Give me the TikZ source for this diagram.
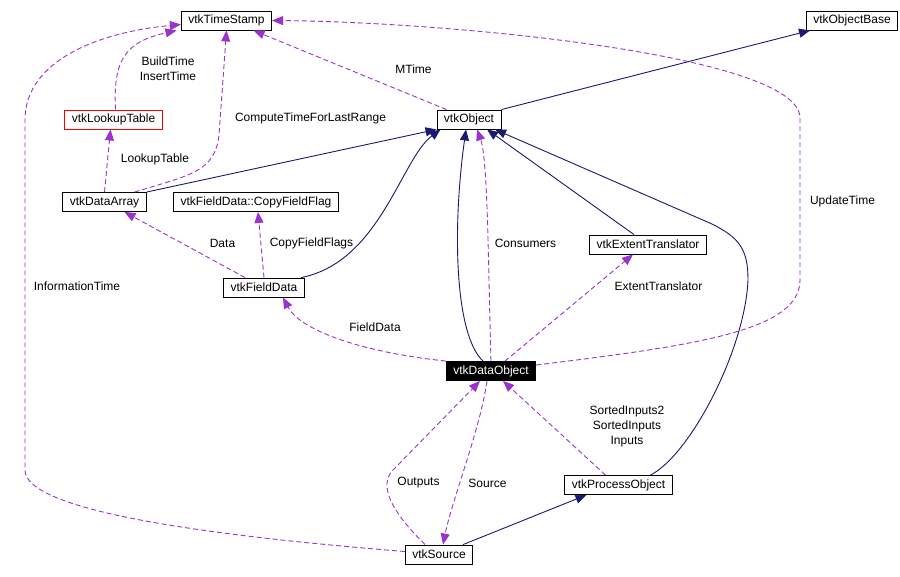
\documentclass[tikz,border=0pt]{standalone}
\usepackage{fontspec}
\setmainfont{Liberation Sans}
\usepackage{tikz}
\usetikzlibrary{arrows.meta,positioning}
\definecolor{VTKNavy}  {HTML}{191970}
\definecolor{VTKOrchid}{HTML}{9A32CD}
\definecolor{VTKRed}   {HTML}{FF0000}

\begin{document}
\begin{tikzpicture}[x=1pt,y=-1pt,
    cls/.style={draw=black,fill=white,line width=0.9pt,font=\fontsize{12}{14}\selectfont,
                inner xsep=7pt,inner ysep=0pt,minimum height=19pt},
    lbl/.style={font=\fontsize{12}{15}\selectfont,inner sep=0pt,align=center},
    inherit/.style={draw=VTKNavy,line width=0.9pt,-{Triangle[length=11pt,width=9pt]}},
    member/.style={draw=VTKOrchid,line width=0.9pt,dash pattern=on 5pt off 3pt,
                   -{Triangle[length=11pt,width=9pt]}}]
    \useasboundingbox (0,0) rectangle (900,576);
    % Classes
    \node[cls] (timestamp)   at (226.5,20.5) {vtkTimeStamp};
    \node[cls] (objectbase)  at (852,20.5)   {vtkObjectBase};
    \node[cls,draw=VTKRed] (lookuptable) at (113.5,119.5) {vtkLookupTable};
    \node[cls] (object)      at (469,119.5)  {vtkObject};
    \node[cls] (dataarray)   at (104.5,202)  {vtkDataArray};
    \node[cls] (copyflag)    at (256,202)    {vtkFieldData::CopyFieldFlag};
    \node[cls] (extent)      at (648,244.5)  {vtkExtentTranslator};
    \node[cls] (fielddata)   at (264,287.5)  {vtkFieldData};
    \node[cls,fill=black,text=white] (dataobject) at (491,371) {vtkDataObject};
    \node[cls] (procobject)  at (618.5,485)  {vtkProcessObject};
    \node[cls] (source)      at (439,554.5)  {vtkSource};
    % Inheritance
    \draw[inherit] (object.north east) -- ([xshift=-42pt]objectbase.south);
    \draw[inherit] (dataarray.north east) -- (object.south west);
    \draw[inherit] (fielddata.15) .. controls (380,262) and (401,159) .. ([xshift=4pt]object.south west);
    \draw[inherit] ([xshift=-8pt]dataobject.north) .. controls (455,335) and (452,230) .. ([xshift=-3pt]object.south);
    \draw[inherit] ([xshift=-14pt]extent.north) -- ([xshift=18pt]object.south);
    \draw[inherit] ([xshift=32pt]procobject.north) .. controls (690,455) and (745,350) .. (748,280)
        .. controls (748,250) and (740,238) .. (712,224) -- ([xshift=26pt]object.south);
    \draw[inherit] ([xshift=-10pt]source.north east) -- ([xshift=-32pt]procobject.south);
    % Members
    \draw[member] ([xshift=2pt]lookuptable.north) .. controls (113,60) and (125,42) .. ([xshift=-50pt]timestamp.south);
    \draw[member] ([xshift=30pt]dataarray.north) .. controls (190,175) and (215,172) .. (219,135) -- (timestamp.south);
    \draw[member] (dataarray.north) -- ([xshift=-3pt]lookuptable.south);
    \draw[member] ([xshift=10pt]object.north west) -- ([xshift=27pt]timestamp.south);
    \draw[member] ([yshift=6pt]dataobject.east) .. controls (700,345) and (800,330) .. (800,280) -- (800,118)
        .. controls (800,55) and (450,22) .. (timestamp.east);
    \draw[member] ([yshift=3pt]source.west) .. controls (200,535) and (25,510) .. (25,470) -- (25,120)
        .. controls (25,60) and (100,32) .. ([yshift=-4pt]timestamp.west);
    \draw[member] ([xshift=-19pt]fielddata.north) -- ([xshift=20pt]dataarray.south);
    \draw[member] (fielddata.north) -- ([xshift=2pt]copyflag.south);
    \draw[member] (dataobject.north west) .. controls (360,352) and (300,330) .. ([xshift=19pt]fielddata.south);
    \draw[member] (dataobject.north) .. controls (488,260) and (488,160) .. ([xshift=8pt]object.south);
    \draw[member] ([xshift=14pt]dataobject.north) -- ([xshift=-15pt]extent.south);
    \draw[member] ([xshift=-13pt]procobject.north) -- ([xshift=12pt]dataobject.south);
    \draw[member] ([xshift=-14pt]source.north) .. controls (395,515) and (375,485) .. (395,468) -- ([xshift=-11pt]dataobject.south);
    \draw[member] ([xshift=-4pt]dataobject.south) .. controls (480,430) and (452,500) .. ([xshift=4pt]source.north);
    % Labels
    \node[lbl] (lbuild)   at (168,69)    {BuildTime\\InsertTime};
    \node[lbl] (lmtime)   at (413.5,69)  {MTime};
    \node[lbl] (lcompute) at (310.5,118) {ComputeTimeForLastRange};
    \node[lbl] (llookup)  at (155,159)   {LookupTable};
    \node[lbl] (lupdate)  at (842.5,201) {UpdateTime};
    \node[lbl] (ldata)    at (222.5,243) {Data};
    \node[lbl] (lflags)   at (311.5,243) {CopyFieldFlags};
    \node[lbl] (lconsum)  at (525.5,243) {Consumers};
    \node[lbl] (linfo)    at (77,286)    {InformationTime};
    \node[lbl] (lextent)  at (658.5,286) {ExtentTranslator};
    \node[lbl] (lfield)   at (375,327)   {FieldData};
    \node[lbl] (linputs)  at (627,426)   {SortedInputs2\\SortedInputs\\Inputs};
    \node[lbl] (loutputs) at (418.5,483) {Outputs};
    \node[lbl] (lsource)  at (487.5,483) {Source};
\end{tikzpicture}
\end{document}
